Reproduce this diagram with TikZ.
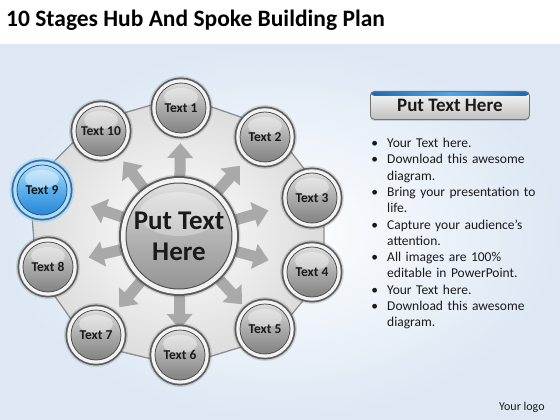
\documentclass[tikz,border=0pt]{standalone}
\usepackage{fontspec}
\setmainfont{Carlito}
\usetikzlibrary{calc,arrows.meta}
\pgfdeclarelayer{back}
\pgfdeclarelayer{bg}
\pgfsetlayers{back,bg,main}
\definecolor{txt}{HTML}{1A1A1A}
\definecolor{ringout}{HTML}{5C5C5C}
\definecolor{ringsilver}{HTML}{F2F2F2}
\definecolor{ringin}{HTML}{505050}
\definecolor{balltop}{HTML}{DCDCDC}
\definecolor{ballmid}{HTML}{ABABAB}
\definecolor{ballbot}{HTML}{828282}
\definecolor{bluetop}{HTML}{B8E0FA}
\definecolor{bluemid}{HTML}{5AB0EC}
\definecolor{bluebot}{HTML}{2A86D6}
\definecolor{blueout}{HTML}{2E6FA8}
\definecolor{bluesilver}{HTML}{B4DCF4}
\definecolor{bluein}{HTML}{1D5A92}
\definecolor{blueglow}{HTML}{9ED0F0}
\definecolor{polyfill}{HTML}{E6E6E6}
\definecolor{polyline}{HTML}{8E8E8E}
\definecolor{arrowgray}{HTML}{A9A9A9}
\definecolor{bgblue}{HTML}{DDE8F4}
\definecolor{headblue}{HTML}{1F68AE}
\definecolor{headlight}{HTML}{4FA6E8}
\tikzset{
  ballbase/.style={circle, minimum size=50pt, inner sep=0pt, text=txt,
    font=\bfseries\fontsize{13.5}{15}\selectfont,
    path picture={\fill[white,opacity=0.4] ($(path picture bounding box.center)+(0,-11)$) ellipse (17 and 9);}},
  grayball/.style={ballbase, top color=balltop, bottom color=ballbot, middle color=ballmid,
    draw=ringin, line width=0.8pt,
    preaction={draw=black, opacity=0.12, line width=14pt},
    preaction={draw=ringout, line width=11pt},
    preaction={draw=ringsilver, line width=7.5pt}},
  blueball/.style={ballbase, top color=bluetop, bottom color=bluebot, middle color=bluemid,
    draw=bluein, line width=0.8pt,
    preaction={draw=blueglow, opacity=0.6, line width=15pt},
    preaction={draw=blueout, line width=11pt},
    preaction={draw=bluesilver, line width=7.5pt}},
  hubball/.style={circle, minimum size=106pt, inner sep=0pt, align=center, text=txt,
    font=\bfseries\fontsize{27}{31}\selectfont,
    top color=balltop!90, bottom color=ballbot!85, middle color=ballmid!90,
    draw=ringin, line width=1pt,
    preaction={draw=black, opacity=0.12, line width=17pt},
    preaction={draw=ringout, line width=14pt},
    preaction={draw=ringsilver, line width=10pt},
    path picture={\fill[white,opacity=0.3] ($(path picture bounding box.center)+(0,-22)$) ellipse (40 and 22);}},
  spoke/.style={draw=arrowgray, line width=11pt, -{Triangle[width=25pt,length=15pt]}},
  polystyle/.style={inner color=white, outer color=polyfill!90!gray, draw=polyline, line width=1.3pt, line join=round},
  headbox/.style={rounded corners=4pt, minimum width=159pt, minimum height=28pt, inner sep=0pt,
    top color=white!95!gray, bottom color=ballmid!75, draw=ringin!80, line width=0.8pt,
    font=\bfseries\fontsize{19}{22}\selectfont, text=txt,
    path picture={\shade[left color=headblue, right color=headblue, middle color=headlight]
      (path picture bounding box.north west) rectangle ($(path picture bounding box.north east)+(0,4.5)$);},
    preaction={fill=black, opacity=0.15, transform canvas={yshift=-1.5pt}}},
  bulletlist/.style={text width=185pt, inner sep=0pt, align=left, text=txt,
    font=\fontsize{13.5}{16.3}\selectfont},
  titlestyle/.style={font=\bfseries\fontsize{23.5}{27}\selectfont, text=black, inner sep=0pt},
  logostyle/.style={font=\fontsize{12}{14}\selectfont, text=txt, inner sep=0pt}
}
\begin{document}
\begin{tikzpicture}[x=1pt,y=-1pt]
\useasboundingbox (0,0) rectangle (560,420);
\begin{pgfonlayer}{back}
  \fill[white] (0,0) rectangle (560,420);
  \shade[inner color=white, outer color=bgblue] (0,45) rectangle (560,420);
\end{pgfonlayer}

% title
\node[titlestyle, anchor=base west] (title) at (6,27) {10 Stages Hub And Spoke Building Plan};

% hub and nodes
\node[hubball] (hub) at (179,236) {Put Text\\Here};
\node[grayball] (n1) at (181,108) {Text 1};
\node[grayball] (n2) at (265,137) {Text 2};
\node[grayball] (n3) at (312,198) {Text 3};
\node[grayball] (n4) at (312,272) {Text 4};
\node[grayball] (n5) at (265,329) {Text 5};
\node[grayball] (n6) at (180,355) {Text 6};
\node[grayball] (n7) at (96,335) {Text 7};
\node[grayball] (n8) at (48,267) {Text 8};
\node[blueball] (n9) at (42,190) {Text 9};
\node[grayball] (n10) at (101,131) {Text 10};

\begin{pgfonlayer}{bg}
  \draw[polystyle] ($(hub)!1.09!(n1)$) -- ($(hub)!1.09!(n2)$) -- ($(hub)!1.09!(n3)$)
    -- ($(hub)!1.09!(n4)$) -- ($(hub)!1.09!(n5)$) -- ($(hub)!1.09!(n6)$)
    -- ($(hub)!1.09!(n7)$) -- ($(hub)!1.09!(n8)$) -- ($(hub)!1.09!(n9)$)
    -- ($(hub)!1.09!(n10)$) -- cycle;
  \foreach \n in {n1,n2,n3,n4,n5,n6,n7,n8,n9,n10}{
    \draw[spoke] ($(hub)!60pt!(\n)$) -- ($(hub)!93pt!(\n)$);
  }
\end{pgfonlayer}

% right panel
\node[headbox, anchor=north west] (head) at (370,91) {Put Text Here};
\node[bulletlist, anchor=north west] (list) at (368,131) {%
\begin{list}{\textbullet}{\setlength\leftmargin{19pt}\setlength\labelwidth{10pt}\setlength\labelsep{9pt}\setlength\itemsep{0pt}\setlength\parsep{0pt}\setlength\topsep{0pt}\setlength\partopsep{0pt}}
\item Your Text here.
\item Download this awesome\\diagram.
\item Bring your presentation to\\life.
\item Capture your audience’s\\attention.
\item All images are 100\%\\editable in PowerPoint.
\item Your Text here.
\item Download this awesome\\diagram.
\end{list}};

\node[logostyle, anchor=west] (logo) at (499,407) {Your logo};
\end{tikzpicture}
\end{document}
